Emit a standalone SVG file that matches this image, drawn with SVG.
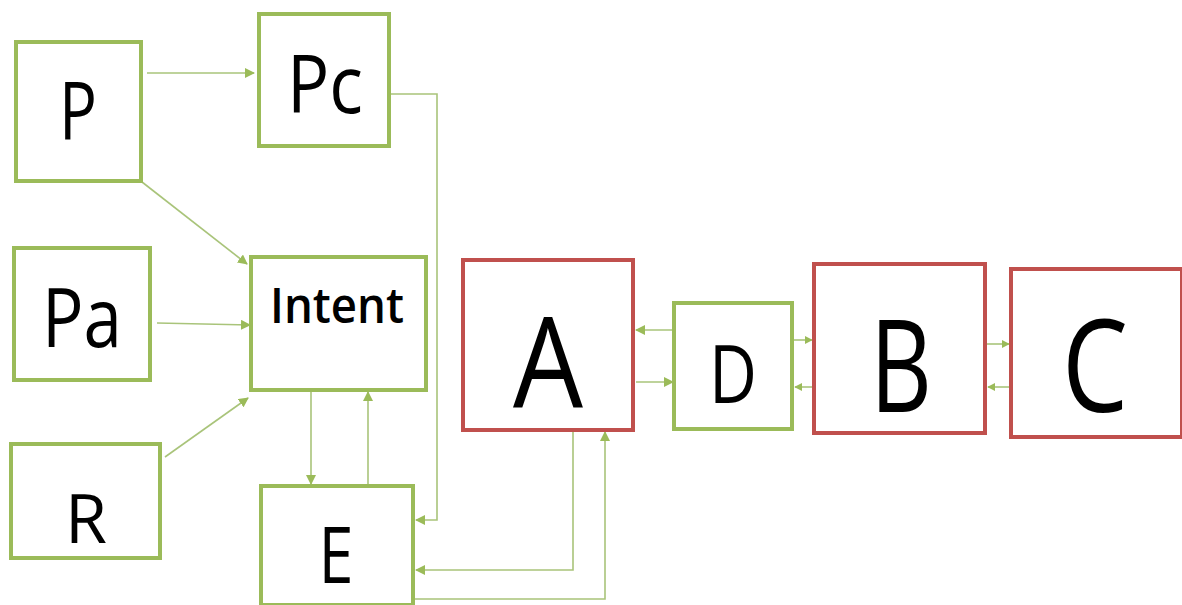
<svg xmlns="http://www.w3.org/2000/svg" width="1182" height="605" viewBox="0 0 1182 605">
<style>
.g{fill:#fff;stroke:#9BBB59;stroke-width:4}
.r{fill:#fff;stroke:#C0504D;stroke-width:4}
.t{font-family:"Open Sans","Liberation Sans",sans-serif;fill:#000;text-anchor:middle}
.c{fill:none;stroke:#A9C47A;stroke-width:1.6}
</style>
<defs>
<marker id="ah" viewBox="0 0 10 10" refX="9" refY="5" markerWidth="8" markerHeight="8" markerUnits="userSpaceOnUse" orient="auto">
<path d="M0,0L10,5L0,10z" fill="#9BBB59"/>
</marker>
<marker id="ahs" viewBox="0 0 10 10" refX="9" refY="5" markerWidth="10" markerHeight="10" markerUnits="userSpaceOnUse" orient="auto">
<path d="M0,0L10,5L0,10z" fill="#9BBB59"/>
</marker>
</defs>
<rect width="1182" height="605" fill="#fff"/>
<g id="connectors">
<path class="c" d="M147,73H254" marker-end="url(#ahs)"/>
<path class="c" d="M389,94H437V520H416" marker-end="url(#ahs)"/>
<path class="c" d="M142,182L247,264" marker-end="url(#ahs)"/>
<path class="c" d="M157,323L250,325" marker-end="url(#ahs)"/>
<path class="c" d="M165,457L248,398" marker-end="url(#ahs)"/>
<path class="c" d="M311,391V484" marker-end="url(#ahs)"/>
<path class="c" d="M368,484V392" marker-end="url(#ahs)"/>
<path class="c" d="M673,330H636" marker-end="url(#ahs)"/>
<path class="c" d="M636,382H673" marker-end="url(#ahs)"/>
<path class="c" d="M573,431V570H416" marker-end="url(#ahs)"/>
<path class="c" d="M415,599H605V432" marker-end="url(#ahs)"/>
<path class="c" d="M794,340H812" marker-end="url(#ah)"/>
<path class="c" d="M812,387H795" marker-end="url(#ah)"/>
<path class="c" d="M987,344H1009" marker-end="url(#ah)"/>
<path class="c" d="M1009,387H988" marker-end="url(#ah)"/>
</g>
<g id="P"><rect class="g" x="16" y="42" width="125" height="139"/><text class="t" x="78" y="140" font-size="81" textLength="38" lengthAdjust="spacingAndGlyphs">P</text></g>
<g id="Pc"><rect class="g" x="259" y="14" width="130" height="132"/><text class="t" x="325" y="113" font-size="81" textLength="76" lengthAdjust="spacingAndGlyphs">Pc</text></g>
<g id="Pa"><rect class="g" x="14" y="248" width="136" height="132"/><text class="t" x="82" y="347" font-size="82" textLength="80" lengthAdjust="spacingAndGlyphs">Pa</text></g>
<g id="Intent"><rect class="g" x="251" y="257" width="175" height="133"/><text class="t" x="337" y="323" font-size="49" font-weight="600" textLength="134" lengthAdjust="spacingAndGlyphs">Intent</text></g>
<g id="R"><rect class="g" x="11" y="444" width="149" height="114"/><text class="t" x="86" y="543" font-size="67" textLength="42" lengthAdjust="spacingAndGlyphs">R</text></g>
<g id="E"><rect class="g" x="261" y="486" width="152" height="119"/><text class="t" x="336" y="583" font-size="78" textLength="35" lengthAdjust="spacingAndGlyphs">E</text></g>
<g id="A"><rect class="r" x="463" y="260" width="170" height="170"/><text class="t" x="548" y="408" font-size="126" textLength="70" lengthAdjust="spacingAndGlyphs">A</text></g>
<g id="D"><rect class="g" x="674" y="303" width="118" height="126"/><text class="t" x="733" y="403" font-size="81" textLength="48" lengthAdjust="spacingAndGlyphs">D</text></g>
<g id="B"><rect class="r" x="814" y="264" width="171" height="169"/><text class="t" x="901" y="412" font-size="129" textLength="62" lengthAdjust="spacingAndGlyphs">B</text></g>
<g id="C"><rect class="r" x="1011" y="269" width="171" height="168"/><text class="t" x="1095" y="412" font-size="129" textLength="66" lengthAdjust="spacingAndGlyphs">C</text></g>
</svg>
